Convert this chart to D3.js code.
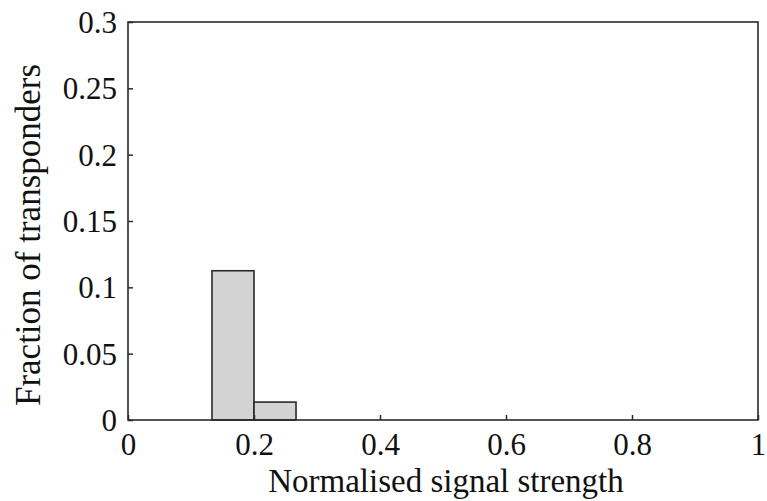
<!DOCTYPE html>
<html><head><meta charset="utf-8">
<script src="https://cdn.jsdelivr.net/npm/d3@7"></script>
<style>body{margin:0;background:#fff}</style>
</head><body>
<svg id="c" width="767" height="501"></svg>
<script>
const binStarts = [0.1333, 0.2];
const binEnds = [0.2, 0.2667];
const fractions = [0.1125, 0.0135];
const xTicks = [0, 0.2, 0.4, 0.6, 0.8, 1];
const yTicks = [0, 0.05, 0.1, 0.15, 0.2, 0.25, 0.3];
const xTickLabels = ["0", "0.2", "0.4", "0.6", "0.8", "1"];
const yTickLabels = ["0", "0.05", "0.1", "0.15", "0.2", "0.25", "0.3"];

const m = {left:128, right:758, top:22, bottom:420};
const svg = d3.select("#c");
const x = d3.scaleLinear().domain([0,1]).range([m.left, m.right]);
const y = d3.scaleLinear().domain([0,0.3]).range([m.bottom, m.top]);
const font = "'Liberation Serif','Times New Roman',serif";
const stroke = "#2a2a2a";

svg.selectAll("rect.bar").data(fractions).enter().append("rect")
  .attr("class","bar")
  .attr("x",(d,i)=>x(binStarts[i]))
  .attr("width",(d,i)=>x(binEnds[i])-x(binStarts[i]))
  .attr("y",d=>y(d))
  .attr("height",d=>y(0)-y(d))
  .attr("fill","#d3d3d3").attr("stroke",stroke).attr("stroke-width",1.6);

const xAxis = d3.axisBottom(x).tickValues(xTicks).tickFormat((d,i)=>xTickLabels[i]).tickSizeInner(-5).tickSizeOuter(0).tickPadding(14);
const gx = svg.append("g").attr("transform",`translate(0,${m.bottom})`).call(xAxis);
const yAxis = d3.axisLeft(y).tickValues(yTicks).tickFormat((d,i)=>yTickLabels[i]).tickSizeInner(-5).tickSizeOuter(0).tickPadding(11);
const gy = svg.append("g").attr("transform",`translate(${m.left},0)`).call(yAxis);
[gx,gy].forEach(g=>{
  g.select(".domain").remove();
  g.selectAll("line").attr("stroke",stroke).attr("stroke-width",1.5);
  g.selectAll("text").attr("font-family",font).attr("font-size",31).attr("fill","#111");
});
gx.selectAll("text").attr("dy",null).attr("y",35);
gy.selectAll("text").attr("dy","0.34em");

svg.append("rect").attr("x",m.left).attr("y",m.top).attr("width",m.right-m.left).attr("height",m.bottom-m.top)
  .attr("fill","none").attr("stroke",stroke).attr("stroke-width",1.6);

svg.append("text").attr("x",446).attr("y",492).attr("text-anchor","middle")
  .attr("font-family",font).attr("font-size",33).attr("fill","#111").text("Normalised signal strength");
svg.append("text").attr("transform",`translate(40,235) rotate(-90)`).attr("text-anchor","middle")
  .attr("font-family",font).attr("font-size",35).attr("fill","#111").text("Fraction of transponders");
</script>
</body></html>
